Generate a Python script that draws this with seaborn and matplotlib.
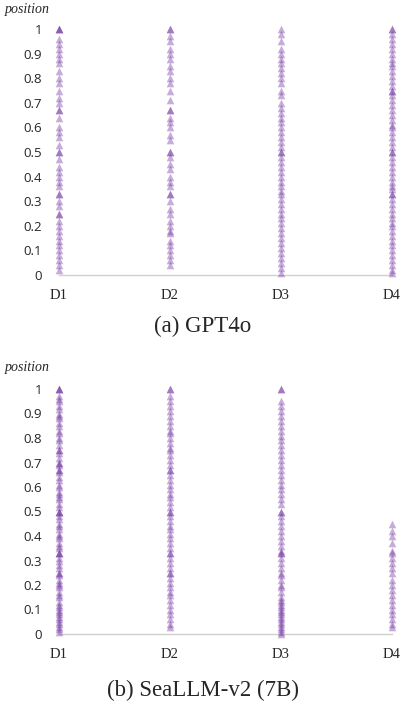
import pandas as pd
import matplotlib.pyplot as plt
import seaborn as sns

CATEGORIES = ["D1", "D2", "D3", "D4"]
PURPLE = "#7030A0"

# relative position values per dataset
gpt4o_d1 = [1, 1, 1, 0.96, 0.94, 0.92, 0.9, 0.88, 0.86, 0.83, 0.8, 0.78, 0.75, 0.72, 0.7, 0.67,
            0.67, 0.64, 0.6, 0.58, 0.56, 0.53, 0.5, 0.5, 0.47, 0.44, 0.42, 0.4, 0.38, 0.36, 0.33,
            0.33, 0.3, 0.28, 0.25, 0.25, 0.22, 0.2, 0.18, 0.16, 0.14, 0.12, 0.1, 0.08, 0.06, 0.04, 0.02]
gpt4o_d2 = [1, 1, 0.97, 0.95, 0.92, 0.9, 0.88, 0.85, 0.83, 0.8, 0.78, 0.75, 0.71, 0.67, 0.67, 0.64,
            0.62, 0.6, 0.57, 0.55, 0.5, 0.5, 0.48, 0.45, 0.43, 0.4, 0.38, 0.36, 0.33, 0.33, 0.3,
            0.27, 0.25, 0.22, 0.2, 0.18, 0.17, 0.14, 0.12, 0.1, 0.08, 0.06, 0.04]
gpt4o_d3 = [1, 0.98, 0.95, 0.92, 0.9, 0.88, 0.86, 0.84, 0.82, 0.8, 0.78, 0.75, 0.73, 0.7, 0.68,
            0.66, 0.64, 0.62, 0.6, 0.58, 0.56, 0.54, 0.52, 0.5, 0.5, 0.48, 0.46, 0.44, 0.42, 0.4,
            0.38, 0.36, 0.34, 0.33, 0.31, 0.29, 0.27, 0.25, 0.23, 0.21, 0.19, 0.17, 0.15, 0.13,
            0.11, 0.09, 0.07, 0.05, 0.03, 0.01]
gpt4o_d4 = [1, 1, 0.98, 0.96, 0.94, 0.92, 0.9, 0.88, 0.86, 0.85, 0.83, 0.81, 0.79, 0.77, 0.75,
            0.75, 0.73, 0.71, 0.69, 0.67, 0.65, 0.63, 0.61, 0.6, 0.58, 0.56, 0.54, 0.52, 0.5, 0.5,
            0.48, 0.46, 0.44, 0.42, 0.4, 0.38, 0.36, 0.35, 0.33, 0.33, 0.31, 0.29, 0.27, 0.25,
            0.23, 0.21, 0.2, 0.18, 0.16, 0.14, 0.12, 0.1, 0.08, 0.06, 0.04, 0.02, 0.01]

seallm_d1 = [1, 1, 1, 0.97, 0.96, 0.95, 0.93, 0.92, 0.9, 0.89, 0.88, 0.86, 0.85, 0.83, 0.82, 0.8,
             0.79, 0.77, 0.75, 0.75, 0.74, 0.72, 0.7, 0.7, 0.69, 0.67, 0.67, 0.66, 0.64, 0.63,
             0.61, 0.6, 0.58, 0.57, 0.56, 0.55, 0.53, 0.52, 0.5, 0.5, 0.5, 0.48, 0.47, 0.45, 0.44,
             0.43, 0.41, 0.4, 0.39, 0.37, 0.36, 0.35, 0.33, 0.33, 0.33, 0.31, 0.3, 0.28, 0.27,
             0.25, 0.25, 0.24, 0.22, 0.21, 0.2, 0.19, 0.17, 0.16, 0.15, 0.13, 0.12, 0.11, 0.1,
             0.09, 0.08, 0.07, 0.06, 0.05, 0.04, 0.03, 0.02, 0.01]
seallm_d2 = [1, 1, 0.97, 0.95, 0.93, 0.91, 0.89, 0.87, 0.85, 0.83, 0.82, 0.8, 0.78, 0.76, 0.75,
             0.73, 0.71, 0.69, 0.67, 0.67, 0.65, 0.63, 0.61, 0.59, 0.57, 0.56, 0.54, 0.52, 0.5,
             0.5, 0.48, 0.46, 0.44, 0.43, 0.41, 0.39, 0.37, 0.35, 0.33, 0.33, 0.31, 0.29, 0.27,
             0.25, 0.25, 0.23, 0.21, 0.19, 0.17, 0.16, 0.14, 0.12, 0.1, 0.08, 0.06, 0.04, 0.03]
seallm_d3 = [1, 1, 0.95, 0.93, 0.91, 0.89, 0.87, 0.85, 0.83, 0.81, 0.79, 0.77, 0.75, 0.73, 0.71,
             0.69, 0.67, 0.65, 0.63, 0.61, 0.59, 0.57, 0.55, 0.53, 0.5, 0.5, 0.48, 0.46, 0.44,
             0.42, 0.4, 0.38, 0.36, 0.34, 0.33, 0.33, 0.31, 0.29, 0.27, 0.25, 0.24, 0.22, 0.2,
             0.19, 0.17, 0.15, 0.14, 0.13, 0.12, 0.11, 0.1, 0.09, 0.08, 0.07, 0.06, 0.05, 0.04,
             0.03, 0.02, 0.01, 0.0]
seallm_d4 = [0.45, 0.42, 0.4, 0.37, 0.34, 0.33, 0.31, 0.29, 0.27, 0.25, 0.22, 0.2, 0.18, 0.16,
             0.14, 0.12, 0.1, 0.08, 0.06, 0.04, 0.03]

panels = [
    ("(a) GPT4o", [gpt4o_d1, gpt4o_d2, gpt4o_d3, gpt4o_d4]),
    ("(b) SeaLLM-v2 (7B)", [seallm_d1, seallm_d2, seallm_d3, seallm_d4]),
]

sns.set_style("white")
fig = plt.figure(figsize=(4.01, 7.04), dpi=100)

# [left, bottom, width, height], caption y, label y
layout = [
    ([59 / 401, 429 / 704, 333 / 401, 246 / 704], 1 - 326 / 704, 1 - 10 / 704),
    ([59 / 401, 70 / 704, 333 / 401, 245 / 704], 1 - 690 / 704, 1 - 367 / 704),
]

for (caption, columns), (rect, cap_y, lab_y) in zip(panels, layout):
    rows = []
    for cat, vals in zip(CATEGORIES, columns):
        for v in vals:
            rows.append({"dataset": cat, "position": v})
    df = pd.DataFrame(rows)

    ax = fig.add_axes(rect)
    sns.stripplot(data=df, x="dataset", y="position", order=CATEGORIES, jitter=False,
                  marker="^", size=5.5, color=PURPLE, alpha=0.4, linewidth=0, ax=ax,
                  clip_on=False)
    ax.set_xlim(0, 3)
    ax.set_ylim(0, 1)
    ax.set_yticks([0, 0.1, 0.2, 0.3, 0.4, 0.5, 0.6, 0.7, 0.8, 0.9, 1])
    ax.set_yticklabels(["0", "0.1", "0.2", "0.3", "0.4", "0.5", "0.6", "0.7", "0.8", "0.9", "1"],
                       fontsize=9.5, family="Open Sans")
    ax.set_xticks(range(4))
    ax.set_xticklabels(CATEGORIES, fontsize=10.5, family="Liberation Serif")
    ax.tick_params(axis="y", length=0, pad=12)
    ax.tick_params(axis="x", length=0, pad=10)
    ax.set_xlabel("")
    ax.set_ylabel("")
    for side in ["top", "right", "left"]:
        ax.spines[side].set_visible(False)
    ax.spines["bottom"].set_color("#d0d0d0")
    ax.spines["bottom"].set_linewidth(1)

    fig.text(5 / 401, lab_y, "position", fontsize=10, style="italic",
             family="Liberation Serif", va="center", ha="left")
    fig.text(203 / 401, cap_y, caption, fontsize=16.5, family="Liberation Serif",
             va="center", ha="center")

fig.savefig("out.png", dpi=100)
